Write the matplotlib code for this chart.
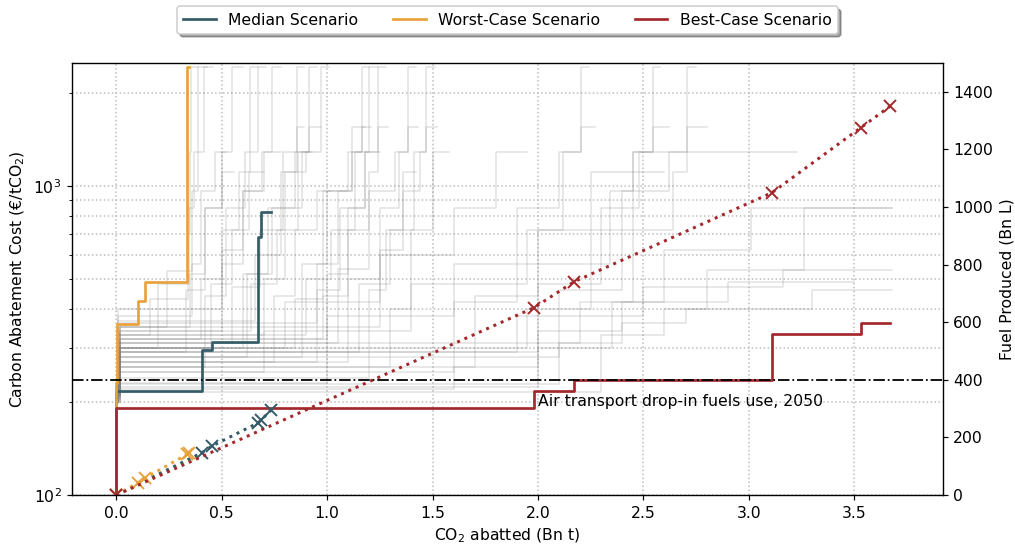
import numpy as np
import matplotlib.pyplot as plt
from matplotlib.ticker import NullFormatter

plt.rcParams['font.size'] = 10.4

# cumulative CO2 abatted (Bn t) at each step, and cost level (EUR/tCO2) of that step
best_x = [0.0, 0.0, 1.98, 2.17, 3.11, 3.53, 3.67]
best_cost = [100, 191, 217, 235, 332, 360]
best_fuel = [0, 650, 740, 1050, 1275, 1350]
best_fx = [0.0, 1.98, 2.17, 3.11, 3.53, 3.67]

worst_x = [0.0, 0.0, 0.004, 0.104, 0.138, 0.337, 0.345]
worst_cost = [100, 230, 357, 425, 489, 2430]
worst_fuel = [0, 43, 59, 142, 147]
worst_fx = [0.0, 0.104, 0.138, 0.337, 0.347]

med_x = [0.0, 0.0, 0.407, 0.454, 0.674, 0.687, 0.734]
med_cost = [100, 217, 294, 312, 685, 826]
med_fuel = [0, 147, 170, 251, 260, 295]
med_fx = [0.0, 0.407, 0.454, 0.674, 0.687, 0.734]

# other scenarios: (step positions, cost levels)
other_runs = [
    ([0, 0.01, 0.16, 0.34, 0.35, 0.355, 0.39], [200, 330, 430, 700, 1290, 2430]),
    ([0, 0.01, 0.20, 0.345, 0.37, 0.39, 0.43], [205, 300, 480, 850, 1290, 2430]),
    ([0, 0.015, 0.24, 0.36, 0.39, 0.418, 0.46], [210, 350, 530, 960, 1290, 2430]),
    ([0, 0.01, 0.33, 0.42, 0.50, 0.551, 0.60], [198, 290, 460, 850, 1290, 2430]),
    ([0, 0.02, 0.40, 0.50, 0.58, 0.632, 0.67], [215, 320, 500, 720, 1110, 2430]),
    ([0, 0.01, 0.42, 0.52, 0.61, 0.67, 0.71], [207, 260, 440, 850, 1290, 2430]),
    ([0, 0.02, 0.50, 0.60, 0.69, 0.741, 0.78], [212, 340, 560, 960, 1290, 2430]),
    ([0, 0.01, 0.55, 0.68, 0.79, 0.856, 0.89], [200, 310, 470, 720, 1290, 2430]),
    ([0, 0.02, 0.62, 0.74, 0.85, 0.912, 0.95], [218, 280, 520, 850, 1290, 2430]),
    ([0, 0.01, 0.66, 0.78, 0.90, 0.972, 1.01], [204, 365, 600, 1110, 1290, 2430]),
    ([0, 0.02, 0.85, 0.98, 1.10, 1.166, 1.20], [209, 300, 430, 960, 1290, 2430]),
    ([0, 0.01, 0.90, 1.02, 1.13, 1.201, 1.24], [213, 330, 500, 720, 1290, 2430]),
    ([0, 0.01, 0.95, 1.06, 1.18, 1.242, 1.28], [199, 270, 460, 850, 1290, 2430]),
    ([0, 0.02, 1.05, 1.20, 1.32, 1.383, 1.42], [222, 310, 540, 960, 1290, 2430]),
    ([0, 0.01, 1.15, 1.30, 1.41, 1.47, 1.51], [206, 290, 480, 720, 1290, 2430]),
    ([0, 0.02, 1.60, 1.90, 2.10, 2.206, 2.24], [203, 250, 420, 850, 1290, 2430]),
    ([0, 0.01, 1.95, 2.25, 2.45, 2.545, 2.58], [211, 300, 400, 720, 1290, 2430]),
    ([0, 0.02, 2.10, 2.40, 2.62, 2.707, 2.75], [208, 280, 460, 960, 1290, 2430]),
    ([0, 0.01, 0.60, 0.72, 0.80, 0.856, 0.89], [214, 300, 520, 850, 1110, 1553]),
    ([0, 0.02, 0.64, 0.76, 0.86, 0.912, 0.97], [201, 340, 480, 720, 1290, 1553]),
    ([0, 0.01, 0.88, 1.00, 1.12, 1.166, 1.21], [210, 280, 560, 960, 1290, 1553]),
    ([0, 0.02, 0.98, 1.10, 1.20, 1.242, 1.29], [217, 320, 440, 720, 1110, 1553]),
    ([0, 0.01, 1.10, 1.25, 1.34, 1.383, 1.43], [205, 270, 500, 850, 1290, 1553]),
    ([0, 0.02, 1.25, 1.36, 1.44, 1.47, 1.52], [209, 350, 620, 960, 1290, 1553]),
    ([0, 0.01, 1.70, 2.00, 2.12, 2.206, 2.27], [200, 260, 440, 720, 1290, 1553]),
    ([0, 0.02, 2.00, 2.30, 2.48, 2.545, 2.62], [212, 290, 480, 850, 1290, 1553]),
    ([0, 0.01, 2.20, 2.45, 2.64, 2.707, 2.80], [206, 310, 420, 720, 1110, 1553]),
    ([0, 0.01, 1.00, 1.60, 2.34, 2.45, 3.23], [200, 230, 380, 560, 960, 1290]),
    ([0, 0.02, 2.00, 2.35, 2.60, 3.01, 3.68], [198, 224, 300, 420, 620, 849]),
    ([0, 0.01, 2.30, 2.60, 2.80, 3.26, 3.68], [205, 215, 330, 400, 535, 849]),
    ([0, 0.02, 1.20, 1.90, 2.50, 3.16, 3.68], [203, 240, 290, 380, 470, 535]),
    ([0, 0.01, 1.60, 2.00, 2.40, 2.90, 3.50], [208, 220, 260, 340, 420, 490]),
    ([0, 0.02, 2.10, 2.40, 2.70, 3.30, 3.68], [210, 228, 310, 360, 400, 460]),
    ([0, 0.01, 0.70, 1.40, 1.95, 2.25, 2.60], [215, 250, 340, 480, 720, 1110]),
    ([0, 0.02, 0.80, 1.25, 1.60, 1.80, 1.95], [220, 300, 420, 600, 850, 1290]),
    ([0, 0.01, 0.36, 0.40, 0.47, 0.52], [212, 380, 560, 960, 1290]),
    ([0, 0.02, 0.45, 0.55, 0.63, 0.70], [206, 300, 480, 720, 1110]),
    ([0, 0.01, 0.70, 0.80, 0.88, 0.93], [218, 330, 500, 850, 1290]),
    ([0, 0.02, 0.75, 0.85, 0.95, 1.02], [200, 270, 440, 720, 960]),
    ([0, 0.01, 1.00, 1.10, 1.18, 1.25], [204, 320, 520, 850, 1290]),
    ([0, 0.02, 1.20, 1.28, 1.36, 1.42], [211, 290, 460, 720, 1110]),
    ([0, 0.01, 0.50, 0.60, 0.70, 0.78], [225, 400, 620, 960, 1290]),
    ([0, 0.02, 0.35, 0.42, 0.50, 0.56], [208, 350, 520, 850, 1110]),
    ([0, 0.01, 1.30, 1.40, 1.50, 1.58], [202, 260, 400, 720, 1290]),
    ([0, 0.02, 0.95, 1.05, 1.12, 1.18], [216, 360, 560, 960, 1553]),
]

fuel_2050 = 400

c_med = '#345b68'
c_worst = '#e9a23b'
c_best = '#a3282b'


def steps(x, levels):
    return np.array(x), np.append(levels, levels[-1])


fig = plt.figure(figsize=(1015/108, 546/108), dpi=108)
ax = fig.add_axes([0.0709, 0.0934, 0.858, 0.7912])
ax2 = ax.twinx()

for xs, lv in other_runs:
    x, y = steps(xs, lv)
    ax.step(x, y, where='post', color='grey', alpha=0.24, lw=1)

for xs, lv, c, lab in [(med_x, med_cost, c_med, 'Median Scenario'),
                       (worst_x, worst_cost, c_worst, 'Worst-Case Scenario'),
                       (best_x, best_cost, c_best, 'Best-Case Scenario')]:
    x, y = steps(xs, lv)
    ax.step(x, y, where='post', color=c, lw=1.8, label=lab)

ax.set_yscale('log')
ax.set_ylim(100, 2500)
ax.set_xlim(-0.21, 3.92)
ax.set_xticks(np.arange(0, 3.6, 0.5))
ax.yaxis.set_minor_formatter(NullFormatter())
ax.grid(which='both', axis='y', ls=':', color='#bbbbbb', lw=1)
ax.grid(which='major', axis='x', ls=':', color='#bbbbbb', lw=1)
ax.set_xlabel('CO$_2$ abatted (Bn t)')
ax.set_ylabel('Carbon Abatement Cost (€/tCO$_2$)')

for fx, fu, c in [(med_fx, med_fuel, c_med), (worst_fx, worst_fuel, c_worst), (best_fx, best_fuel, c_best)]:
    ax2.plot(fx, fu, ls=':', lw=2, color=c, marker='x', ms=8.5, mew=1.3)

ax2.axhline(fuel_2050, color='k', ls='-.', lw=1.2)
ax2.text(2.0, fuel_2050 - 91, 'Air transport drop-in fuels use, 2050', va='baseline')
ax2.set_ylim(0, 1500)
ax2.set_yticks(np.arange(0, 1401, 200))
ax2.set_ylabel('Fuel Produced (Bn L)')

ax.legend(loc='center', bbox_to_anchor=(0.5, 1.0995), ncol=3, shadow=True,
          columnspacing=2.2, handlelength=2.1)

fig.savefig('out.png', dpi=108)
